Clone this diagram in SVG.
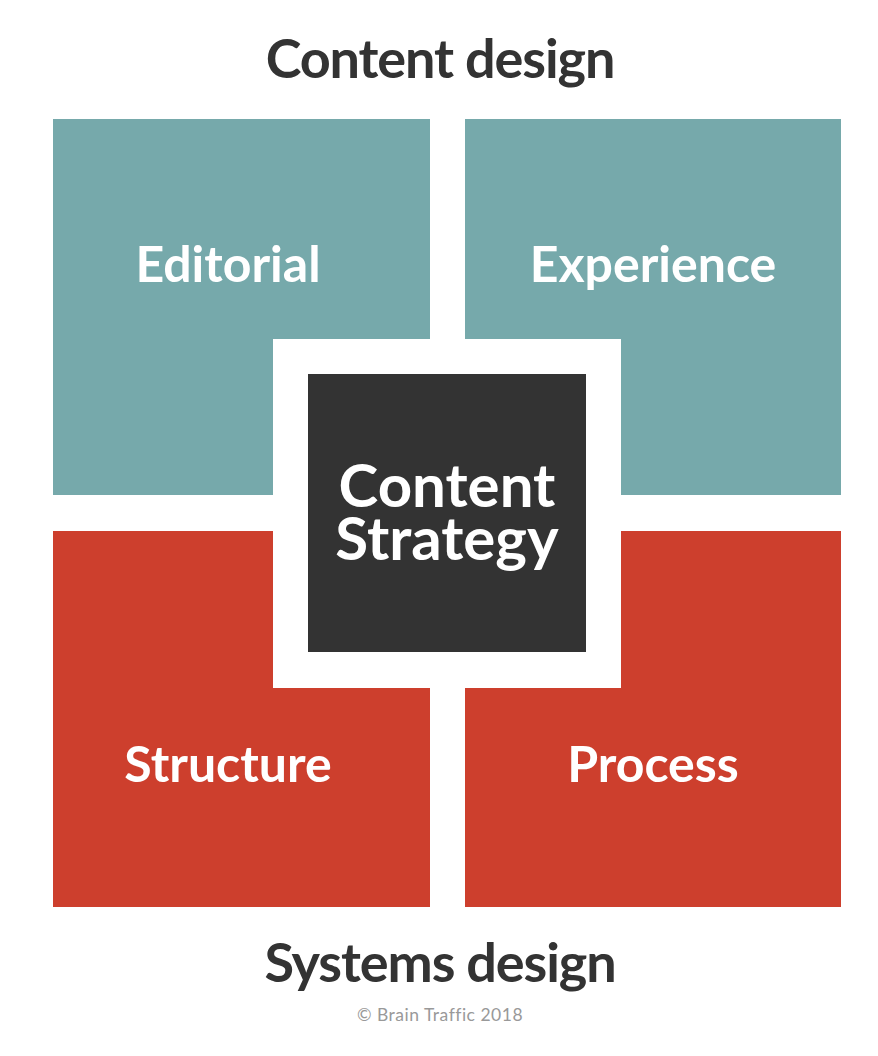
<svg xmlns="http://www.w3.org/2000/svg" width="878" height="1056" viewBox="0 0 878 1056">
<style>
.title{font-family:Lato,"Open Sans",sans-serif;font-weight:bold;fill:#333333;text-anchor:middle;font-size:54px;letter-spacing:-1.1px}
.lbl{font-family:Lato,"Open Sans",sans-serif;font-weight:bold;fill:#ffffff;text-anchor:middle;font-size:50px}
.big{font-size:60px}
.teal{fill:#76A9AB}
.red{fill:#CD3F2D}
.copy{font-family:Lato,"Open Sans",sans-serif;fill:#999999;text-anchor:middle;font-size:17.5px;letter-spacing:0.5px}
</style>
<rect width="878" height="1056" fill="#ffffff"/>
<text class="title" x="440" y="78">Content design</text>
<g id="editorial">
<path class="teal" d="M53 119H430V339H273V495H53Z"/>
<text class="lbl" x="228" y="282">Editorial</text>
</g>
<g id="experience">
<path class="teal" d="M465 119H841V495H621V339H465Z"/>
<text class="lbl" x="653" y="282">Experience</text>
</g>
<g id="structure">
<path class="red" d="M53 531H273V688H430V907H53Z"/>
<text class="lbl" x="228" y="782">Structure</text>
</g>
<g id="process">
<path class="red" d="M621 531H841V907H465V688H621Z"/>
<text class="lbl" x="653" y="782">Process</text>
</g>
<g id="content-strategy">
<rect x="308" y="374" width="278" height="278" fill="#333333"/>
<text class="lbl big" x="447" y="507">Content</text>
<text class="lbl big" x="447" y="560">Strategy</text>
</g>
<g id="connectors"/>
<text class="title" x="440" y="982">Systems design</text>
<text class="copy" x="440" y="1021">© Brain Traffic 2018</text>
</svg>
